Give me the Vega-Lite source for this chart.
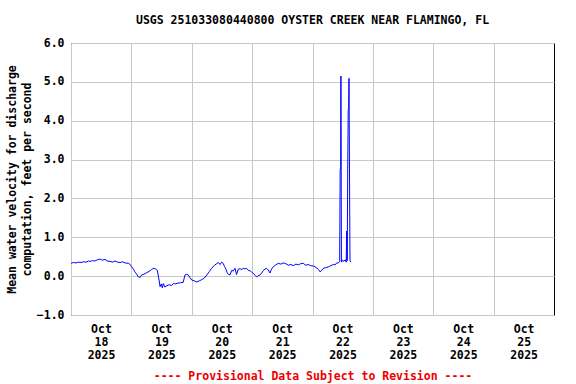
{
  "$schema": "https://vega.github.io/schema/vega-lite/v6.json",
  "autosize": "none",
  "width": 483,
  "height": 272,
  "padding": {"left": 71, "top": 43, "right": 22, "bottom": 69},
  "background": "white",
  "title": {
    "text": "USGS 251033080440800 OYSTER CREEK NEAR FLAMINGO, FL",
    "font": "DejaVu Sans Mono",
    "fontSize": 11.5,
    "fontWeight": "bold",
    "color": "black",
    "anchor": "middle",
    "offset": 11
  },
  "config": {
    "view": {"stroke": "black", "strokeWidth": 1},
    "axis": {
      "labelFont": "DejaVu Sans Mono",
      "labelFontWeight": "bold",
      "labelFontSize": 11.5,
      "labelColor": "black",
      "titleFont": "DejaVu Sans Mono",
      "titleFontWeight": "bold",
      "titleFontSize": 11.5,
      "gridColor": "#c8c8c8",
      "gridWidth": 1,
      "domain": false,
      "ticks": false
    }
  },
  "data": {
    "values": [
      {"t": "2025-10-18T00:00", "v": 0.33},
      {"t": "2025-10-18T01:00", "v": 0.35},
      {"t": "2025-10-18T02:00", "v": 0.34},
      {"t": "2025-10-18T03:00", "v": 0.36},
      {"t": "2025-10-18T04:00", "v": 0.35},
      {"t": "2025-10-18T05:00", "v": 0.37},
      {"t": "2025-10-18T06:00", "v": 0.36},
      {"t": "2025-10-18T07:00", "v": 0.39},
      {"t": "2025-10-18T07:36", "v": 0.38},
      {"t": "2025-10-18T08:30", "v": 0.40},
      {"t": "2025-10-18T09:30", "v": 0.39},
      {"t": "2025-10-18T10:30", "v": 0.42},
      {"t": "2025-10-18T11:30", "v": 0.44},
      {"t": "2025-10-18T12:30", "v": 0.41},
      {"t": "2025-10-18T13:30", "v": 0.43},
      {"t": "2025-10-18T14:30", "v": 0.39},
      {"t": "2025-10-18T15:30", "v": 0.38},
      {"t": "2025-10-18T16:30", "v": 0.36},
      {"t": "2025-10-18T17:30", "v": 0.39},
      {"t": "2025-10-18T18:30", "v": 0.36},
      {"t": "2025-10-18T19:30", "v": 0.35},
      {"t": "2025-10-18T20:30", "v": 0.37},
      {"t": "2025-10-18T21:30", "v": 0.34},
      {"t": "2025-10-18T22:48", "v": 0.33},
      {"t": "2025-10-18T23:30", "v": 0.30},
      {"t": "2025-10-19T00:06", "v": 0.24},
      {"t": "2025-10-19T00:48", "v": 0.18},
      {"t": "2025-10-19T01:24", "v": 0.11},
      {"t": "2025-10-19T02:00", "v": 0.06},
      {"t": "2025-10-19T02:48", "v": -0.02},
      {"t": "2025-10-19T03:30", "v": -0.03},
      {"t": "2025-10-19T04:06", "v": 0.03},
      {"t": "2025-10-19T05:00", "v": 0.05},
      {"t": "2025-10-19T06:06", "v": 0.09},
      {"t": "2025-10-19T07:00", "v": 0.12},
      {"t": "2025-10-19T08:00", "v": 0.17},
      {"t": "2025-10-19T08:42", "v": 0.20},
      {"t": "2025-10-19T09:30", "v": 0.19},
      {"t": "2025-10-19T10:18", "v": 0.15},
      {"t": "2025-10-19T11:00", "v": -0.10},
      {"t": "2025-10-19T11:24", "v": -0.27},
      {"t": "2025-10-19T11:54", "v": -0.20},
      {"t": "2025-10-19T12:18", "v": -0.30},
      {"t": "2025-10-19T12:42", "v": -0.19},
      {"t": "2025-10-19T13:18", "v": -0.28},
      {"t": "2025-10-19T14:00", "v": -0.25},
      {"t": "2025-10-19T15:00", "v": -0.22},
      {"t": "2025-10-19T16:00", "v": -0.24},
      {"t": "2025-10-19T16:42", "v": -0.19},
      {"t": "2025-10-19T17:30", "v": -0.20},
      {"t": "2025-10-19T18:30", "v": -0.18},
      {"t": "2025-10-19T19:30", "v": -0.17},
      {"t": "2025-10-19T20:36", "v": -0.16},
      {"t": "2025-10-19T21:18", "v": 0.03},
      {"t": "2025-10-19T22:00", "v": 0.05},
      {"t": "2025-10-19T22:36", "v": 0.03},
      {"t": "2025-10-19T23:18", "v": -0.04},
      {"t": "2025-10-20T00:00", "v": -0.10},
      {"t": "2025-10-20T01:00", "v": -0.12},
      {"t": "2025-10-20T02:00", "v": -0.15},
      {"t": "2025-10-20T03:00", "v": -0.12},
      {"t": "2025-10-20T04:00", "v": -0.09},
      {"t": "2025-10-20T05:00", "v": -0.05},
      {"t": "2025-10-20T06:00", "v": 0.03},
      {"t": "2025-10-20T07:00", "v": 0.12},
      {"t": "2025-10-20T07:54", "v": 0.20},
      {"t": "2025-10-20T09:00", "v": 0.28},
      {"t": "2025-10-20T09:54", "v": 0.32},
      {"t": "2025-10-20T10:36", "v": 0.35},
      {"t": "2025-10-20T11:12", "v": 0.30},
      {"t": "2025-10-20T11:54", "v": 0.36},
      {"t": "2025-10-20T12:30", "v": 0.33},
      {"t": "2025-10-20T13:00", "v": 0.25},
      {"t": "2025-10-20T13:36", "v": 0.18},
      {"t": "2025-10-20T14:00", "v": 0.10},
      {"t": "2025-10-20T14:30", "v": 0.05},
      {"t": "2025-10-20T15:12", "v": 0.03},
      {"t": "2025-10-20T15:54", "v": 0.15},
      {"t": "2025-10-20T16:30", "v": 0.13},
      {"t": "2025-10-20T17:12", "v": 0.20},
      {"t": "2025-10-20T17:48", "v": 0.04},
      {"t": "2025-10-20T18:30", "v": 0.18},
      {"t": "2025-10-20T19:12", "v": 0.19},
      {"t": "2025-10-20T19:54", "v": 0.17},
      {"t": "2025-10-20T20:30", "v": 0.20},
      {"t": "2025-10-20T21:12", "v": 0.19},
      {"t": "2025-10-20T21:48", "v": 0.20},
      {"t": "2025-10-20T22:30", "v": 0.15},
      {"t": "2025-10-20T23:12", "v": 0.14},
      {"t": "2025-10-20T23:48", "v": 0.10},
      {"t": "2025-10-21T00:30", "v": 0.07},
      {"t": "2025-10-21T01:12", "v": 0.02},
      {"t": "2025-10-21T01:48", "v": -0.02},
      {"t": "2025-10-21T02:24", "v": 0.01},
      {"t": "2025-10-21T03:06", "v": 0.03},
      {"t": "2025-10-21T03:48", "v": 0.08},
      {"t": "2025-10-21T04:24", "v": 0.14},
      {"t": "2025-10-21T05:06", "v": 0.18},
      {"t": "2025-10-21T05:48", "v": 0.20},
      {"t": "2025-10-21T06:24", "v": 0.16},
      {"t": "2025-10-21T07:06", "v": 0.08},
      {"t": "2025-10-21T07:42", "v": 0.18},
      {"t": "2025-10-21T08:24", "v": 0.24},
      {"t": "2025-10-21T09:24", "v": 0.29},
      {"t": "2025-10-21T10:24", "v": 0.33},
      {"t": "2025-10-21T11:24", "v": 0.31},
      {"t": "2025-10-21T12:24", "v": 0.34},
      {"t": "2025-10-21T13:24", "v": 0.32},
      {"t": "2025-10-21T14:24", "v": 0.28},
      {"t": "2025-10-21T15:24", "v": 0.30},
      {"t": "2025-10-21T16:24", "v": 0.27},
      {"t": "2025-10-21T17:24", "v": 0.31},
      {"t": "2025-10-21T18:24", "v": 0.29},
      {"t": "2025-10-21T19:18", "v": 0.32},
      {"t": "2025-10-21T20:18", "v": 0.33},
      {"t": "2025-10-21T21:18", "v": 0.28},
      {"t": "2025-10-21T22:18", "v": 0.30},
      {"t": "2025-10-21T23:18", "v": 0.27},
      {"t": "2025-10-22T00:18", "v": 0.26},
      {"t": "2025-10-22T01:00", "v": 0.24},
      {"t": "2025-10-22T01:42", "v": 0.21},
      {"t": "2025-10-22T02:24", "v": 0.17},
      {"t": "2025-10-22T03:00", "v": 0.11},
      {"t": "2025-10-22T03:42", "v": 0.15},
      {"t": "2025-10-22T04:18", "v": 0.20},
      {"t": "2025-10-22T05:18", "v": 0.22},
      {"t": "2025-10-22T06:18", "v": 0.24},
      {"t": "2025-10-22T07:18", "v": 0.27},
      {"t": "2025-10-22T08:18", "v": 0.30},
      {"t": "2025-10-22T09:00", "v": 0.29},
      {"t": "2025-10-22T09:36", "v": 0.34},
      {"t": "2025-10-22T10:18", "v": 0.34},
      {"t": "2025-10-22T10:48", "v": 0.38},
      {"t": "2025-10-22T11:00", "v": 2.76},
      {"t": "2025-10-22T11:12", "v": 2.76},
      {"t": "2025-10-22T11:18", "v": 5.15},
      {"t": "2025-10-22T11:30", "v": 0.36},
      {"t": "2025-10-22T12:00", "v": 0.41},
      {"t": "2025-10-22T12:30", "v": 0.38},
      {"t": "2025-10-22T13:00", "v": 0.42},
      {"t": "2025-10-22T13:24", "v": 0.36},
      {"t": "2025-10-22T13:36", "v": 1.16},
      {"t": "2025-10-22T13:48", "v": 0.40},
      {"t": "2025-10-22T14:00", "v": 2.76},
      {"t": "2025-10-22T14:12", "v": 4.29},
      {"t": "2025-10-22T14:24", "v": 4.29},
      {"t": "2025-10-22T14:30", "v": 5.09},
      {"t": "2025-10-22T14:42", "v": 2.76},
      {"t": "2025-10-22T14:54", "v": 0.40},
      {"t": "2025-10-22T15:18", "v": 0.36}
    ]
  },
  "mark": {"type": "line", "color": "#0000ff", "strokeWidth": 1},
  "encoding": {
    "x": {
      "field": "t",
      "type": "temporal",
      "scale": {"domain": [{"year": 2025, "month": 10, "date": 18}, {"year": 2025, "month": 10, "date": 26}]},
      "axis": {
        "values": [
          {"year": 2025, "month": 10, "date": 18},
          {"year": 2025, "month": 10, "date": 19},
          {"year": 2025, "month": 10, "date": 20},
          {"year": 2025, "month": 10, "date": 21},
          {"year": 2025, "month": 10, "date": 22},
          {"year": 2025, "month": 10, "date": 23},
          {"year": 2025, "month": 10, "date": 24},
          {"year": 2025, "month": 10, "date": 25}
        ],
        "labelExpr": "[timeFormat(datum.value, '%b'), timeFormat(datum.value, '%d'), timeFormat(datum.value, '%Y')]",
        "labelOffset": 30,
        "labelAlign": "center",
        "labelBaseline": "top",
        "labelPadding": 8,
        "labelLineHeight": 13,
        "labelOverlap": false,
        "labelBound": false,
        "labelFlush": false,
        "title": "---- Provisional Data Subject to Revision ----",
        "titleColor": "#ee0000",
        "titlePadding": 10
      }
    },
    "y": {
      "field": "v",
      "type": "quantitative",
      "scale": {"domain": [-1, 6], "nice": false, "zero": false},
      "axis": {
        "values": [-1, 0, 1, 2, 3, 4, 5, 6],
        "format": ".1f",
        "labelPadding": 7,
        "title": ["Mean water velocity for discharge", "computation, feet per second"],
        "titlePadding": 4,
        "titleLineHeight": 15
      }
    }
  }
}
